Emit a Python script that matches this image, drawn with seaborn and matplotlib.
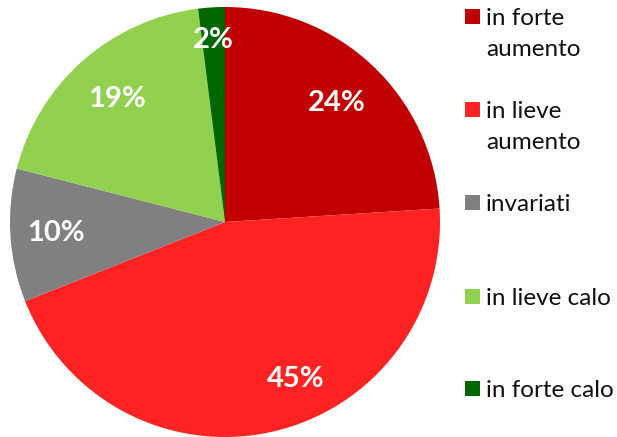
import matplotlib
matplotlib.use("Agg")
import matplotlib.pyplot as plt
import numpy as np
import seaborn as sns
from matplotlib.patches import Rectangle

categories = ["in forte\naumento", "in lieve\naumento", "invariati", "in lieve calo", "in forte calo"]
values = [24, 45, 10, 19, 2]
colors = ["#C00000", "#FF2323", "#808080", "#92D050", "#006600"]

# radial position of each percentage label (fraction of radius) and angle shift in degrees
label_radius = [0.76, 0.80, 0.79, 0.76, 0.85]
label_shift = [0, 11.5, 0, 0, 0]

sns.set_theme(style="white")
plt.rcParams["font.family"] = ["Lato", "DejaVu Sans"]

fig = plt.figure(figsize=(6.17, 4.37), dpi=100)
ax = fig.add_axes([10 / 617, 0.0, 430 / 617, 430 / 437])

wedges, _ = ax.pie(values, colors=colors, startangle=90, counterclock=False,
                   wedgeprops=dict(linewidth=0))
ax.set_xlim(-1, 1)
ax.set_ylim(-1, 1)
ax.set_aspect("equal")

for w, v, r, s in zip(wedges, values, label_radius, label_shift):
    ang = np.deg2rad((w.theta1 + w.theta2) / 2 + s)
    ax.text(r * np.cos(ang), r * np.sin(ang), f"{v}%", ha="center", va="center",
            color="white", fontsize=21, fontweight="bold")

# legend column on the right
legend_y = [17, 110, 203, 297, 389]
for lab, col, y in zip(categories, colors, legend_y):
    fig.patches.append(Rectangle((465 / 617, 1 - (y + 7) / 437), 15 / 617, 15 / 437,
                                 transform=fig.transFigure, facecolor=col, edgecolor="none"))
    fig.text(486 / 617, 1 - (y - 9) / 437, lab, ha="left", va="top", fontsize=17.5,
             color="#111111", linespacing=1.6)

fig.savefig("out.png", dpi=100)
